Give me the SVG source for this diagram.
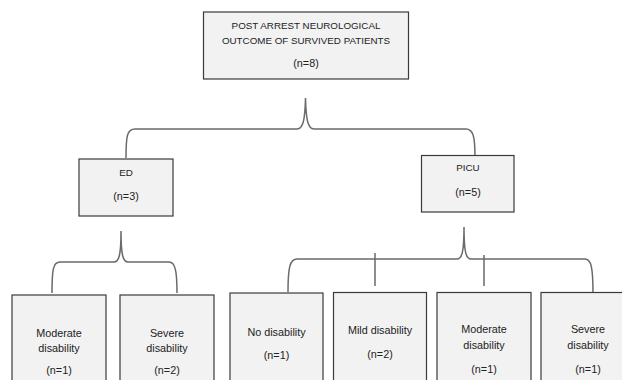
<svg xmlns="http://www.w3.org/2000/svg" width="622" height="380" viewBox="0 0 622 380">
<style>
.box{fill:#f2f2f2;stroke:#3a3a3a;stroke-width:1.2}
.t{font-family:"Liberation Sans",Arial,sans-serif;font-size:10.8px;fill:#222;text-anchor:middle}
.cap{font-size:9.8px}
.c{fill:none;stroke:#6a6a6a;stroke-width:1.5}
</style>
<rect width="622" height="380" fill="#ffffff"/>
<g id="connectors">
<path class="c" d="M126,158 C126,136 127,129 135,129 L297,129 C303,129 305,120 305.5,98 C306,120 308,129 314,129 L466,129 C473,129 475,136 475,157"/>
<path class="c" d="M52,293 C52,270 53,262 60,262 L114,262 C119,262 121,255 121,231 C121,255 123,262 128,262 L169,262 C175,262 177,270 177,293"/>
<path class="c" d="M288,292 C288,267 290,259 297,259 L457,259 C462,259 464,252 464,227 C464,252 466,259 471,259 L585,259 C591,259 593,267 593,293"/>
<path class="c" d="M375,253 L375,286 M484,255 L484,286" stroke="#333"/>
</g>
<g id="root">
<rect class="box" x="203.5" y="12" width="205" height="67"/>
<text class="t cap" x="306" y="29">POST ARREST NEUROLOGICAL</text>
<text class="t cap" x="306" y="44">OUTCOME OF SURVIVED PATIENTS</text>
<text class="t" x="306" y="67">(n=8)</text>
</g>
<g id="ed">
<rect class="box" x="79" y="159" width="94" height="57"/>
<text class="t cap" x="126" y="175.5">ED</text>
<text class="t" x="126" y="199.5">(n=3)</text>
</g>
<g id="picu">
<rect class="box" x="421.5" y="155.5" width="92.5" height="56.5"/>
<text class="t cap" x="468" y="170.5">PICU</text>
<text class="t" x="468" y="195.5">(n=5)</text>
</g>
<g id="ed-moderate">
<rect class="box" x="12" y="295" width="94" height="90"/>
<text class="t" x="59" y="336.5">Moderate</text>
<text class="t" x="59" y="352">disability</text>
<text class="t" x="59" y="374">(n=1)</text>
</g>
<g id="ed-severe">
<rect class="box" x="120" y="295" width="94" height="90"/>
<text class="t" x="167" y="336.5">Severe</text>
<text class="t" x="167" y="352">disability</text>
<text class="t" x="167" y="374">(n=2)</text>
</g>
<g id="picu-none">
<rect class="box" x="230" y="293" width="93" height="92"/>
<text class="t" x="276.5" y="335.5">No disability</text>
<text class="t" x="276.5" y="359">(n=1)</text>
</g>
<g id="picu-mild">
<rect class="box" x="333.5" y="292.5" width="93" height="92"/>
<text class="t" x="380" y="334">Mild disability</text>
<text class="t" x="380" y="357.5">(n=2)</text>
</g>
<g id="picu-moderate">
<rect class="box" x="437" y="292.5" width="94" height="92"/>
<text class="t" x="484" y="333">Moderate</text>
<text class="t" x="484" y="348.5">disability</text>
<text class="t" x="484" y="373">(n=1)</text>
</g>
<g id="picu-severe">
<rect class="box" x="541" y="292.5" width="94" height="92"/>
<text class="t" x="588" y="333">Severe</text>
<text class="t" x="588" y="348.5">disability</text>
<text class="t" x="588" y="373">(n=1)</text>
</g>
</svg>
